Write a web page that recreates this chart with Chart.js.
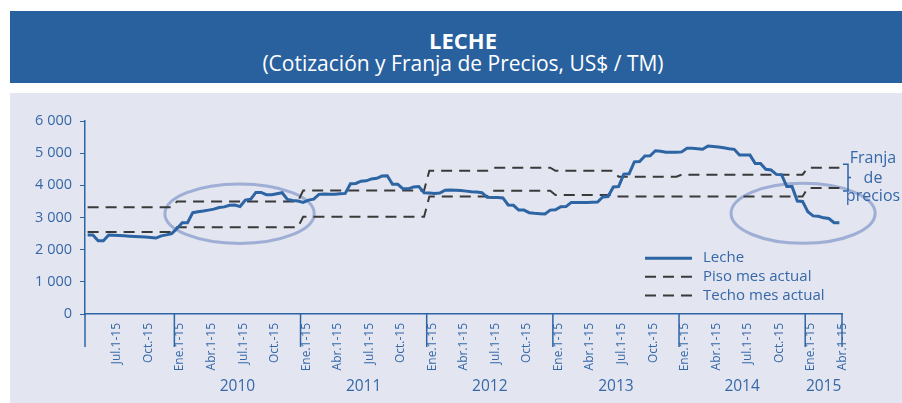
<!DOCTYPE html>
<html>
<head>
<meta charset="utf-8">
<script src="https://cdn.jsdelivr.net/npm/chart.js"></script>
<style>
    body { margin: 0; background: #fff; width: 902px; height: 403px; overflow: hidden; font-family: "Open Sans", sans-serif; position: relative; }
    .band { position: absolute; left: 10px; top: 11px; width: 892px; height: 72px; background: #29619f; color: #fff; text-align: center; overflow: hidden; }
    .band div { position: absolute; left: 0; width: 906px; line-height: 28px; }
    .band .t1 { top: 15px; font-size: 22px; font-weight: bold; }
    .band .t2 { top: 38px; font-size: 21px; }
    .panel { position: absolute; left: 10px; top: 93px; width: 892px; height: 310px; background: #e3e5f0; }
    canvas { position: absolute; left: 0; top: 0; }
</style>
</head>
<body>
<div class="band">
    <div class="t1">LECHE</div>
    <div class="t2">(Cotización y Franja de Precios, US$ / TM)</div>
</div>
<div class="panel"></div>
<canvas id="chart" width="902" height="403"></canvas>
<script>
// Quincenas desde Abr.16-30 2009 hasta Abr.1-15 2015
const MESES = ['Ene.', 'Feb.', 'Mar.', 'Abr.', 'May.', 'Jun.', 'Jul.', 'Ago.', 'Sep.', 'Oct.', 'Nov.', 'Dic.'];
const TICK_MONTHS = [0, 3, 6, 9];
const TICK_TEXT = ['Ene.1-15', 'Abr.1-15', 'Jul.1-15', 'Oct.-15'];
const YEARS = ['2010', '2011', '2012', '2013', '2014', '2015'];
const FIRST_YEAR = 2009;
const FIRST_HALF = 7; // Abr.16-30 = quincena 7 del año

// Cotización leche (US$/TM)
const leche = [
    // 2009
    2455, 2455, 2280, 2280, 2455, 2450, 2440, 2430, 2420, 2410, 2400, 2390, 2380, 2360, 2430, 2460, 2500,
    // 2010
    2660, 2840, 2840, 3150, 3180, 3200, 3230, 3260, 3310, 3330, 3380, 3390,
    3340, 3540, 3565, 3780, 3780, 3710, 3710, 3740, 3770, 3560, 3530, 3510,
    // 2011
    3470, 3540, 3570, 3720, 3730, 3720, 3720, 3740, 3750, 4050, 4060, 4130,
    4140, 4200, 4220, 4290, 4300, 4030, 4030, 3890, 3890, 3950, 3960, 3770,
    // 2012
    3760, 3750, 3760, 3850, 3855, 3850, 3840, 3820, 3800, 3790, 3770, 3630,
    3620, 3620, 3610, 3390, 3380, 3230, 3230, 3150, 3130, 3120, 3110, 3230,
    // 2013
    3240, 3335, 3340, 3470, 3470, 3470, 3470, 3475, 3480, 3640, 3650, 3950,
    3960, 4350, 4360, 4730, 4740, 4910, 4920, 5075, 5060, 5030, 5030, 5030,
    // 2014
    5040, 5150, 5150, 5140, 5120, 5220, 5210, 5190, 5170, 5140, 5120, 4940,
    4940, 4940, 4680, 4680, 4500, 4480, 4340, 4330, 3960, 3960, 3510, 3500,
    // 2015
    3180, 3050, 3040, 2990, 2970, 2840, 2840
];

// Piso mes actual
const piso = [
    2550, 2550, 2550, 2550, 2550, 2550, 2550, 2550, 2550, 2550, 2550, 2550, 2550, 2550, 2550, 2550, 2550,
    2700, 2700, 2700, 2700, 2700, 2700, 2700, 2700, 2700, 2700, 2700, 2700,
    2700, 2700, 2700, 2700, 2700, 2700, 2700, 2700, 2700, 2700, 2700, 2700,
    3020, 3020, 3020, 3020, 3020, 3020, 3020, 3020, 3020, 3020, 3020, 3020,
    3020, 3020, 3020, 3020, 3020, 3020, 3020, 3020, 3020, 3020, 3020, 3020,
    3650, 3650, 3650, 3650, 3650, 3650, 3650, 3650, 3650, 3650, 3650, 3650,
    3830, 3830, 3830, 3830, 3830, 3830, 3830, 3830, 3830, 3830, 3830, 3830,
    3700, 3700, 3700, 3700, 3700, 3700, 3700, 3700, 3700, 3700, 3700, 3700,
    3650, 3650, 3650, 3650, 3650, 3650, 3650, 3650, 3650, 3650, 3650, 3650,
    3650, 3650, 3650, 3650, 3650, 3650, 3650, 3650, 3650, 3650, 3650, 3650,
    3650, 3650, 3650, 3650, 3650, 3650, 3650, 3650, 3650, 3650, 3650, 3650,
    3920, 3920, 3920, 3920, 3920, 3920, 3920
];

// Techo mes actual
const techo = [
    3320, 3320, 3320, 3320, 3320, 3320, 3320, 3320, 3320, 3320, 3320, 3320, 3320, 3320, 3320, 3320, 3320,
    3500, 3500, 3500, 3500, 3500, 3500, 3500, 3500, 3500, 3500, 3500, 3500,
    3500, 3500, 3500, 3500, 3500, 3500, 3500, 3500, 3500, 3500, 3500, 3500,
    3840, 3840, 3840, 3840, 3840, 3840, 3840, 3840, 3840, 3840, 3840, 3840,
    3840, 3840, 3840, 3840, 3840, 3840, 3840, 3840, 3840, 3840, 3840, 3840,
    4450, 4450, 4450, 4450, 4450, 4450, 4450, 4450, 4450, 4450, 4450, 4450,
    4550, 4550, 4550, 4550, 4550, 4550, 4550, 4550, 4550, 4550, 4550, 4550,
    4450, 4450, 4450, 4450, 4450, 4450, 4450, 4450, 4450, 4450, 4450, 4450,
    4270, 4270, 4270, 4270, 4270, 4270, 4270, 4270, 4270, 4270, 4270, 4270,
    4330, 4330, 4330, 4330, 4330, 4330, 4330, 4330, 4330, 4330, 4330, 4330,
    4330, 4330, 4330, 4330, 4330, 4330, 4330, 4330, 4330, 4330, 4330, 4330,
    4550, 4550, 4550, 4550, 4550, 4550, 4550
];

// Ellipses marking the two episodes: [centre index, centre value, half width in periods, half height in US$]
const ELLIPSES = [
    [28.9, 3118, 14.2, 923],
    [136.1, 3131, 13.7, 933]
];

const BLUE = '#2c64a4';
const TEXT_BLUE = '#3668a8';
const DASH_GRAY = '#3a3a3a';

// Category names, one per half-month
const categories = [];
for (let i = 0; i < leche.length; i++) {
    const k = i + FIRST_HALF;
    const year = FIRST_YEAR + Math.floor(k / 24);
    const month = Math.floor((k % 24) / 2);
    categories.push(MESES[month] + (k % 2 === 0 ? '1-15 ' : '16-fin ') + year);
}

function tickLabel(index) {
    const k = index + FIRST_HALF;
    if (k % 2 !== 0) return '';
    const pos = TICK_MONTHS.indexOf(Math.floor((k % 24) / 2));
    return pos >= 0 ? TICK_TEXT[pos] : '';
}

function formatThousands(v) {
    return String(v).replace(/\B(?=(\d{3})+(?!\d))/g, ' ');
}

// Ellipses drawn behind the lines
const ellipsePlugin = {
    id: 'ellipses',
    beforeDatasetsDraw(chart) {
        const { ctx, scales: { x, y } } = chart;
        const step = x.getPixelForValue(1) - x.getPixelForValue(0);
        ctx.save();
        ctx.strokeStyle = 'rgba(140, 160, 205, 0.8)';
        ctx.lineWidth = 3;
        ELLIPSES.forEach(([ci, cv, ri, rv]) => {
            const cx = x.getPixelForValue(ci);
            const cy = y.getPixelForValue(cv);
            const ry = y.getPixelForValue(0) - y.getPixelForValue(rv);
            ctx.beginPath();
            ctx.ellipse(cx, cy, ri * step, ry, 0, 0, Math.PI * 2);
            ctx.stroke();
        });
        ctx.restore();
    }
};

// Year separators, year labels, legend and price band bracket
const decorPlugin = {
    id: 'decor',
    afterDraw(chart) {
        const { ctx, chartArea, scales: { x, y } } = chart;
        const step = x.getPixelForValue(1) - x.getPixelForValue(0);
        const bottom = chartArea.bottom;

        // year separators
        const bounds = [chartArea.left];
        for (let n = 1; n <= YEARS.length; n++) {
            const start = 24 * n - FIRST_HALF;
            if (start < leche.length) bounds.push(x.getPixelForValue(start) - step / 2);
        }
        bounds.push(chartArea.right);

        ctx.save();
        ctx.strokeStyle = BLUE;
        ctx.lineWidth = 1.5;
        bounds.forEach(bx => {
            ctx.beginPath();
            ctx.moveTo(bx, bottom);
            ctx.lineTo(bx, bottom + 33);
            ctx.stroke();
        });

        ctx.fillStyle = TEXT_BLUE;
        ctx.font = '15.5px "Open Sans"';
        ctx.textAlign = 'center';
        ctx.textBaseline = 'middle';
        YEARS.forEach((yr, n) => {
            const x0 = bounds[n + 1];
            const x1 = bounds[n + 2];
            ctx.fillText(yr, (x0 + x1) / 2, bottom + 73);
        });

        // legend
        ctx.font = '15px "Open Sans"';
        const lx = chartArea.right - 197;
        const ly = y.getPixelForValue(2000) + 8.5;
        const rows = chart.data.datasets;
        ctx.textAlign = 'left';
        rows.forEach((ds, i) => {
            const ry = ly + i * 18.7;
            ctx.strokeStyle = ds.borderColor;
            ctx.lineWidth = ds.borderWidth;
            ctx.setLineDash(ds.borderDash || []);
            ctx.beginPath();
            ctx.moveTo(lx, ry);
            ctx.lineTo(lx + 47, ry);
            ctx.stroke();
            ctx.setLineDash([]);
            ctx.fillStyle = TEXT_BLUE;
            ctx.fillText(ds.label, lx + 58, ry);
        });

        // bracket for the price band
        const top = y.getPixelForValue(techo[techo.length - 1]) - 3.5;
        const bot = y.getPixelForValue(piso[piso.length - 1]) + 3;
        const bx = chartArea.right + 6;
        ctx.strokeStyle = BLUE;
        ctx.lineWidth = 1.5;
        ctx.beginPath();
        ctx.moveTo(bx - 5, top);
        ctx.lineTo(bx, top);
        ctx.lineTo(bx, bot);
        ctx.lineTo(bx - 5, bot);
        ctx.moveTo(bx, (top + bot) / 2);
        ctx.lineTo(bx + 3, (top + bot) / 2);
        ctx.stroke();

        ctx.font = '16px "Open Sans"';
        ctx.fillStyle = TEXT_BLUE;
        ctx.textAlign = 'center';
        ctx.fillText('Franja', bx + 25, (top + bot) / 2 - 19.5);
        ctx.fillText('de', bx + 25, (top + bot) / 2 + 0.5);
        ctx.fillText('precios', bx + 25, (top + bot) / 2 + 19);
        ctx.restore();
    }
};

Chart.defaults.font.family = '"Open Sans", sans-serif';

new Chart(document.getElementById('chart'), {
    type: 'line',
    data: {
        labels: categories,
        datasets: [
            {
                label: 'Leche',
                data: leche,
                borderColor: BLUE,
                borderWidth: 3,
                pointRadius: 0,
                order: 0
            },
            {
                label: 'Piso mes actual',
                data: piso,
                borderColor: DASH_GRAY,
                borderWidth: 2,
                borderDash: [11, 7],
                pointRadius: 0,
                order: 1
            },
            {
                label: 'Techo mes actual',
                data: techo,
                borderColor: DASH_GRAY,
                borderWidth: 2,
                borderDash: [11, 7],
                pointRadius: 0,
                order: 2
            }
        ]
    },
    options: {
        responsive: false,
        animation: false,
        layout: { padding: { top: 121, right: 60, bottom: 0, left: 0 } },
        plugins: {
            legend: { display: false },
            tooltip: { enabled: false }
        },
        scales: {
            x: {
                type: 'category',
                offset: true,
                afterFit(scale) { scale.height = 89; },
                grid: { display: false, drawTicks: false },
                border: { display: true, color: BLUE, width: 1.5 },
                ticks: {
                    autoSkip: false,
                    minRotation: 90,
                    maxRotation: 90,
                    padding: 9,
                    labelOffset: 3,
                    color: TEXT_BLUE,
                    font: { size: 12 },
                    callback: (value, index) => tickLabel(index)
                }
            },
            y: {
                min: 0,
                max: 6000,
                afterFit(scale) { scale.width = 85; },
                grid: { drawOnChartArea: false, color: BLUE, tickLength: 5, lineWidth: 1 },
                border: { display: true, color: BLUE, width: 1.5 },
                ticks: {
                    stepSize: 1000,
                    padding: 8,
                    color: TEXT_BLUE,
                    font: { size: 14.5 },
                    callback: v => formatThousands(v)
                }
            }
        }
    },
    plugins: [ellipsePlugin, decorPlugin]
});
</script>
</body>
</html>
